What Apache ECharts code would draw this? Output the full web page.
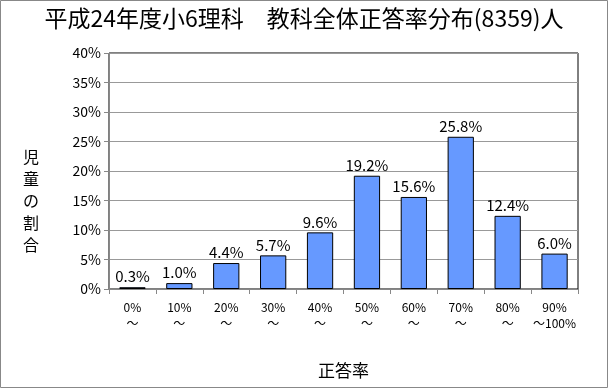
<!DOCTYPE html>
<html><head><meta charset="utf-8">
<script src="https://cdn.jsdelivr.net/npm/echarts@6/dist/echarts.min.js"></script>
<style>html,body{margin:0;padding:0;background:#fff}#c{width:608px;height:388px}</style>
</head><body><div id="c"></div>
<script>
var categories = ['0%\n～', '10%\n～', '20%\n～', '30%\n～', '40%\n～', '50%\n～', '60%\n～', '70%\n～', '80%\n～', '90%\n～100%'];
var values = [0.3, 1.0, 4.4, 5.7, 9.6, 19.2, 15.6, 25.8, 12.4, 6.0];
var titleText = '平成24年度小6理科　教科全体正答率分布(8359)人';
var yName = '児\n童\nの\n割\n合';
var xName = '正答率';
var font = '"Noto Sans CJK JP", "Noto Sans", sans-serif';
var chart = echarts.init(document.getElementById('c'), null, {renderer: 'canvas'});
chart.setOption({
  animation: false,
  backgroundColor: '#fff',
  textStyle: {fontFamily: font},
  title: {text: titleText, left: 'center', top: 2,
    textStyle: {fontSize: 23, fontWeight: 'normal', color: '#000', fontFamily: font}},
  graphic: [
    {type: 'rect', shape: {x: 0.5, y: 0.5, width: 607, height: 387},
      style: {fill: 'none', stroke: '#888', lineWidth: 1}, silent: true},
    {type: 'text', x: 31, y: 201, silent: true,
      style: {text: yName, fontSize: 16, lineHeight: 22, fill: '#000', fontFamily: font,
        align: 'center', verticalAlign: 'middle'}}
  ],
  grid: {left: 109, right: 30, top: 53, bottom: 99, show: true, borderColor: '#000', borderWidth: 1},
  xAxis: {
    type: 'category', data: categories,
    name: xName, nameLocation: 'middle', nameGap: 73,
    nameTextStyle: {fontSize: 17, color: '#000', fontFamily: font},
    axisLine: {lineStyle: {color: '#888'}},
    axisTick: {show: true, length: 5, lineStyle: {color: '#888'}},
    axisLabel: {fontSize: 12, color: '#000', lineHeight: 16, margin: 10, interval: 0, fontFamily: font}
  },
  yAxis: {
    type: 'value', min: 0, max: 40, interval: 5,
    axisLine: {show: true, lineStyle: {color: '#888'}},
    axisTick: {show: true, length: 5, lineStyle: {color: '#888'}},
    axisLabel: {formatter: '{value}%', fontSize: 14, color: '#000', margin: 8, fontFamily: font},
    splitLine: {lineStyle: {color: '#999'}}
  },
  series: [{
    type: 'bar', data: values, barWidth: '56%',
    itemStyle: {color: '#6699FF', borderColor: '#000', borderWidth: 1},
    label: {show: true, position: 'top', distance: 3, fontSize: 15, color: '#000', fontFamily: font,
      formatter: function (p) { return p.value.toFixed(1) + '%'; }}
  }]
});
</script></body></html>
